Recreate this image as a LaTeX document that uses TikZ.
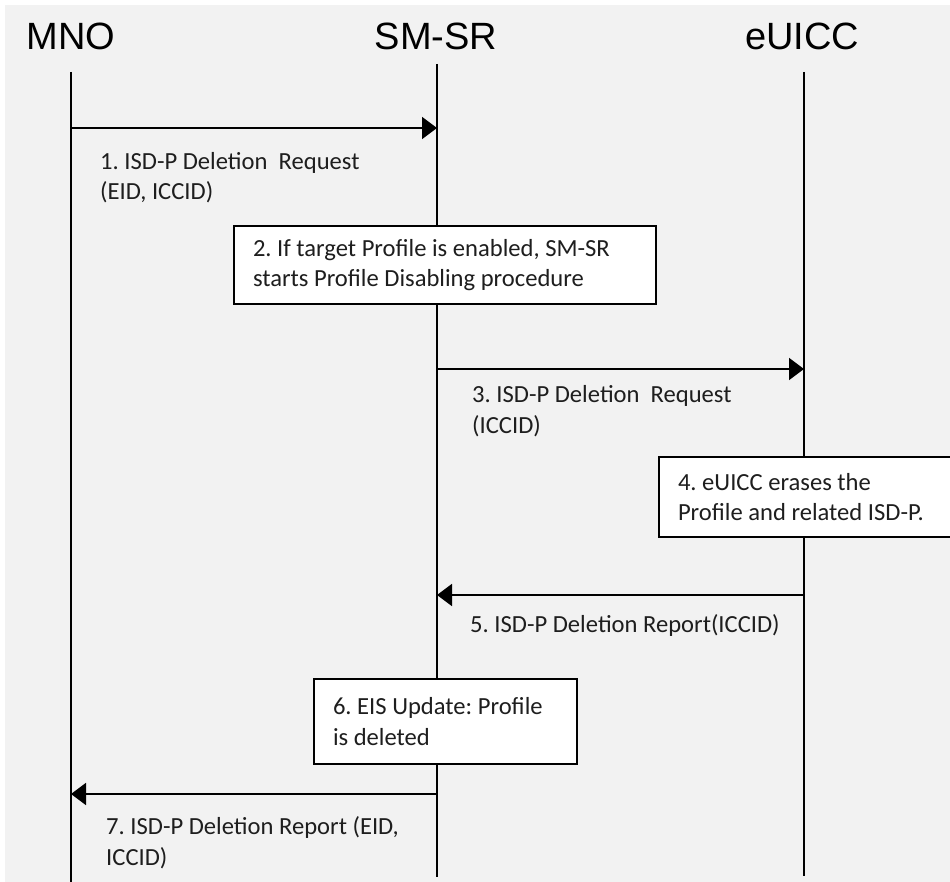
\documentclass[tikz,border=0pt]{standalone}
\usepackage{fontspec}
\setmainfont{Carlito}
\newfontfamily\headfont{Liberation Sans}
\usetikzlibrary{arrows.meta}
\definecolor{canvas}{HTML}{F2F2F2}
\definecolor{ink}{HTML}{1E1E1E}

\begin{document}
\frenchspacing
\begin{tikzpicture}[x=1pt,y=-1pt,
  actor/.style={font=\headfont\fontsize{38}{40}\selectfont, anchor=base, inner sep=0pt},
  life/.style={line width=2pt},
  msg/.style={line width=2pt, -{Triangle[length=15pt,width=22pt]}},
  lbl/.style={font=\fontsize{24.6}{30.5}\selectfont, anchor=base west, inner sep=0pt, align=flush left, text=ink},
  note/.style={draw, line width=2pt, fill=white, anchor=north west, inner xsep=19pt, inner ysep=0pt,
    align=flush left, font=\fontsize{24.6}{30.5}\selectfont, text=ink}]

% canvas
\useasboundingbox (0,0) rectangle (950,882);
\fill[canvas] (5,5) rectangle (950,882);

% participants
\node[actor] (mno) at (71,50) {MNO};
\node[actor] (smsr) at (436,50) {SM-SR};
\node[actor] (euicc) at (802,50) {eUICC};

% lifelines
\coordinate (mnoTop) at (71,72);   \coordinate (mnoBot) at (71,882);
\coordinate (smTop) at (437,64);   \coordinate (smBot) at (437,877);
\coordinate (euTop) at (804,72);   \coordinate (euBot) at (804,876);
\draw[life] (mnoTop) -- (mnoBot);
\draw[life] (smTop) -- (smBot);
\draw[life] (euTop) -- (euBot);

% 1. request MNO -> SM-SR (label anchored on its last baseline)
\coordinate (a1) at (71,128); \coordinate (b1) at (437,128);
\draw[msg] (a1) -- (b1);
\node[lbl] (l1) at (100,200) {1. ISD-P Deletion\ \ Request\\(EID, ICCID)};

% 2. note on SM-SR
\node[note, text width=384pt, minimum height=78pt] (n2) at (233,225)
  {2. If target Profile is enabled, SM-SR\\starts Profile Disabling procedure};

% 3. request SM-SR -> eUICC
\coordinate (a3) at (437,369); \coordinate (b3) at (804,369);
\draw[msg] (a3) -- (b3);
\node[lbl] (l3) at (472,433) {3. ISD-P Deletion\ \ Request\\(ICCID)};

% 4. note on eUICC
\node[note, text width=255pt, minimum height=80pt] (n4) at (658,456)
  {4. eUICC erases the\\Profile and related ISD-P.};

% 5. report eUICC -> SM-SR
\coordinate (a5) at (804,595); \coordinate (b5) at (437,595);
\draw[msg] (a5) -- (b5);
\node[lbl] (l5) at (470,632) {5. ISD-P Deletion Report(ICCID)};

% 6. note on SM-SR
\node[note, text width=225pt, minimum height=85pt] (n6) at (313,678)
  {6. EIS Update: Profile\\is deleted};

% 7. report SM-SR -> MNO
\coordinate (a7) at (437,794); \coordinate (b7) at (71,794);
\draw[msg] (a7) -- (b7);
\node[lbl] (l7) at (106,865) {7. ISD-P Deletion Report (EID,\\ICCID)};
\end{tikzpicture}
\end{document}
